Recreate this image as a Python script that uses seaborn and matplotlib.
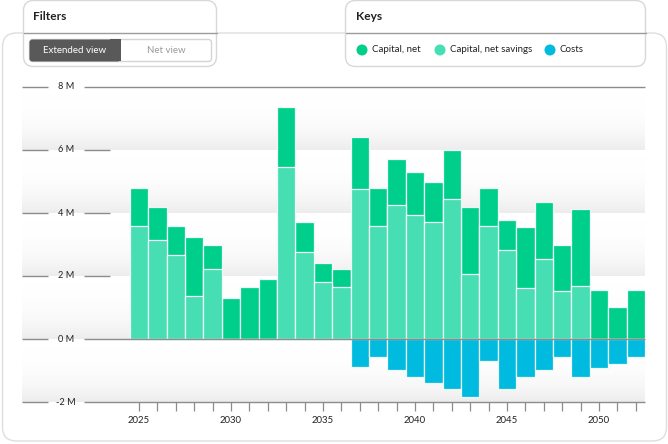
import numpy as np
import pandas as pd
import matplotlib
matplotlib.use("Agg")
import matplotlib.pyplot as plt
from matplotlib.patches import FancyBboxPatch, Circle, Rectangle
from matplotlib.colors import LinearSegmentedColormap
import seaborn as sns

# values in million GBP
years = list(range(2025, 2053))
capital_net_savings = [3.59, 3.13, 2.67, 1.37, 2.23, 0, 0, 0, 5.47, 2.77, 1.80, 1.65,
                       4.77, 3.58, 4.26, 3.95, 3.71, 4.46, 2.06, 3.58, 2.83, 1.61,
                       2.54, 1.52, 1.67, 0, 0, 0]
capital_net = [1.21, 1.05, 0.91, 1.88, 0.75, 1.31, 1.65, 1.90, 1.88, 0.94, 0.61, 0.56,
               1.63, 1.22, 1.45, 1.34, 1.27, 1.53, 2.12, 1.22, 0.96, 1.96,
               1.81, 1.45, 2.45, 1.55, 1.03, 1.55]
costs = [0, 0, 0, 0, 0, 0, 0, 0, 0, 0, 0, 0,
         -0.88, -0.58, -0.98, -1.21, -1.41, -1.58, -1.83, -0.70, -1.58, -1.21,
         -0.98, -0.58, -1.21, -0.92, -0.79, -0.58]
y_ticks = [-2, 0, 2, 4, 6, 8]
y_labels = ["-2 M", "0 M", "2 M", "4 M", "6 M", "8 M"]
full_lines = [-2, 0, 8]
year_labels = [str(y) if y % 5 == 0 else "" for y in years]
keys = ["Capital, net", "Capital, net savings", "Costs"]

C_NET = "#00cf8c"
C_SAV = "#48deb3"
C_COST = "#00badf"
TXT = "#222222"
LINE = "#8c8c8c"

df = pd.DataFrame({"year": years, "savings": capital_net_savings,
                   "net": capital_net, "costs": costs})
df["total"] = df["savings"] + df["net"]

sns.set_theme(style="white")
plt.rcParams["font.family"] = ["Lato", "DejaVu Sans"]

fig = plt.figure(figsize=(6.68, 4.44), dpi=100)
fig.patch.set_facecolor("white")

# background / frame layer in pixel coordinates
bg = fig.add_axes([0, 0, 1, 1], zorder=0)
bg.set_xlim(0, 668)
bg.set_ylim(444, 0)
bg.axis("off")

bg.add_patch(FancyBboxPatch((2.5, 33), 664, 408, boxstyle="round,pad=0,rounding_size=14",
                            fc="white", ec="#dedede", lw=1))

# Filters box
bg.add_patch(FancyBboxPatch((23.5, 0.5), 193, 66, boxstyle="round,pad=0,rounding_size=10",
                            fc="white", ec="#d8d8d8", lw=1))
bg.plot([23.5, 216.5], [33, 33], color="#9c9c9c", lw=1)
bg.text(33, 17, "Filters", fontsize=8.6, fontweight="bold", color=TXT, va="center")
bg.add_patch(FancyBboxPatch((29.5, 39.5), 182, 22, boxstyle="round,pad=0,rounding_size=3",
                            fc="white", ec="#d5d5d5", lw=1))
bg.add_patch(FancyBboxPatch((29.5, 39.5), 91, 22, boxstyle="round,pad=0,rounding_size=3",
                            fc="#595959", ec="none"))
bg.add_patch(Rectangle((110, 39.5), 10.5, 22, fc="#595959", ec="none"))
bg.text(75, 50.5, "Extended view", fontsize=7, color="white", ha="center", va="center")
bg.text(166, 50.5, "Net view", fontsize=7, color="#9a9a9a", ha="center", va="center")

# Keys box
bg.add_patch(FancyBboxPatch((345.5, 0.5), 300, 66, boxstyle="round,pad=0,rounding_size=10",
                            fc="white", ec="#d8d8d8", lw=1))
bg.plot([345.5, 645.5], [33, 33], color="#9c9c9c", lw=1)
bg.text(356, 17, "Keys", fontsize=8.6, fontweight="bold", color=TXT, va="center")
for cx, name, col in zip([362, 440, 550], keys, [C_NET, C_SAV, C_COST]):
    bg.add_patch(Circle((cx, 50), 5.5, fc=col, ec="none"))
    bg.text(cx + 10, 50, name, fontsize=7, color=TXT, va="center")

bg.text(66, 106, "Annual Cost\nin Million GBP", fontsize=6.6, color=TXT,
        ha="center", va="center", linespacing=1.4)

# main chart
ax = fig.add_axes([22 / 668, 42 / 444, 623 / 668, 315 / 444], zorder=1)
ax.patch.set_alpha(0)
x0, x1 = -6.36, 27.5

grad_cmap = LinearSegmentedColormap.from_list("band", ["#ffffff", "#ededed"])
grad = (np.linspace(1, 0, 80) ** 2.8).reshape(-1, 1)
for k in y_ticks[:-1]:
    ax.imshow(grad, extent=(x0, x1, k, k + 2), origin="lower", aspect="auto",
              cmap=grad_cmap, vmin=0, vmax=1, zorder=0, interpolation="bilinear")

bar_kw = dict(width=1, saturation=1, edgecolor="#eefaf6", linewidth=0.9, ax=ax, zorder=3)
sns.barplot(data=df, x="year", y="total", color=C_NET, **bar_kw)
sns.barplot(data=df, x="year", y="savings", color=C_SAV, **bar_kw)
sns.barplot(data=df, x="year", y="costs", color=C_COST, **bar_kw)

ax.set_xlim(x0, x1)
ax.set_ylim(-2, 8)
ax.set_xlabel("")
ax.set_ylabel("")
for s in ax.spines.values():
    s.set_visible(False)

yt = ax.get_yaxis_transform()
for v, lab in zip(y_ticks, y_labels):
    ax.hlines(v, 0, 26 / 623, transform=yt, color=LINE, lw=1, zorder=5, clip_on=False)
    right = 1 if v in full_lines else 88 / 623
    ax.hlines(v, 62 / 623, right, transform=yt, color=LINE, lw=1, zorder=5, clip_on=False)
    ax.text(44 / 623, v, lab, transform=yt, fontsize=6.6, color=TXT,
            ha="center", va="center")

ax.set_yticks([])
ax.set_xticks(range(len(years)))
ax.set_xticklabels(year_labels)
ax.tick_params(axis="x", bottom=True, length=6.5, width=0.9, color=LINE,
               labelsize=6.9, labelcolor=TXT, pad=3.5)
ax.grid(False)

fig.savefig("out.png", dpi=100)
